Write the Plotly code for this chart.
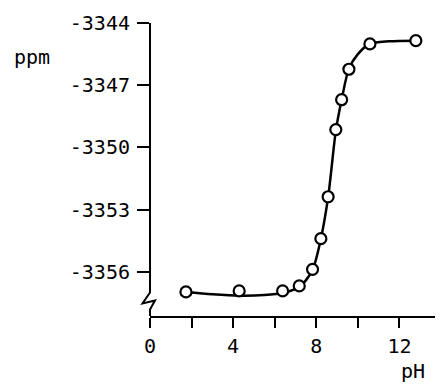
import plotly.graph_objects as go

# measured points
ph = [1.73, 4.29, 6.38, 7.18, 7.82, 8.22, 8.57, 8.94, 9.22, 9.57, 10.58, 12.79]
shift_ppm = [-3356.97, -3356.92, -3356.92, -3356.68, -3355.88, -3354.40,
             -3352.38, -3349.14, -3347.70, -3346.23, -3345.01, -3344.85]

# fitted curve
curve_ph = [1.73, 3.0, 4.3, 5.5, 6.4, 7.2, 7.8, 8.2, 8.57, 8.94, 9.22, 9.57, 10.0, 10.58, 11.5, 12.79]
curve_ppm = [-3356.97, -3357.08, -3357.15, -3357.12, -3357.02, -3356.72, -3355.95, -3354.5,
             -3352.4, -3349.2, -3347.7, -3346.2, -3345.5, -3345.0, -3344.88, -3344.85]

y_ticks = [-3344, -3347, -3350, -3353, -3356]
y_tick_labels = ["-3344", "-3347", "-3350", "-3353", "-3356"]
x_ticks = [0, 4, 8, 12]
x_tick_labels = ["0", "4", "8", "12"]

FONT = "DejaVu Sans Mono"

fig = go.Figure()
fig.add_trace(go.Scatter(x=curve_ph, y=curve_ppm, mode="lines",
                         line=dict(color="black", width=2.5, shape="spline", smoothing=0.8),
                         hoverinfo="skip", showlegend=False))
fig.add_trace(go.Scatter(x=ph, y=shift_ppm, mode="markers",
                         marker=dict(symbol="circle", size=11, color="white",
                                     line=dict(color="black", width=2.2)),
                         showlegend=False))

# page has an 8px body margin, so the figure is drawn 8px smaller and margins are reduced
fig.update_layout(
    width=435, height=376,
    margin=dict(l=142, r=2, t=15, b=67.5),
    paper_bgcolor="white", plot_bgcolor="white",
    font=dict(family=FONT, size=20, color="black"),
    xaxis=dict(range=[0, 14], showgrid=False, zeroline=False,
               showline=True, linecolor="black", linewidth=2,
               ticks="outside", ticklen=10, tickwidth=2, tickcolor="black",
               tickvals=x_ticks, ticktext=x_tick_labels,
               ticklabelstandoff=1,
               minor=dict(ticks="outside", ticklen=10, tickwidth=2, tickcolor="black",
                          tick0=0, dtick=2, showgrid=False)),
    yaxis=dict(range=[-3358.13, -3344], showgrid=False, zeroline=False,
               showline=False,
               ticks="outside", ticklen=12, tickwidth=2, tickcolor="black",
               tickvals=y_ticks, ticktext=y_tick_labels,
               ticklabelstandoff=3),
    shapes=[dict(type="path", xref="paper", yref="paper",
                 path="M 0 1 L 0 0.080 L -0.0258 0.0426 L 0.0172 0.0528 L 0 0.0221 L 0 0",
                 line=dict(color="black", width=2), layer="above")],
    annotations=[
        dict(text="ppm", xref="paper", yref="paper", x=-0.405, y=0.884,
             xanchor="center", yanchor="middle", showarrow=False,
             font=dict(family=FONT, size=20)),
        dict(text="pH", xref="paper", yref="paper", x=0.905, y=-0.187,
             xanchor="center", yanchor="middle", showarrow=False,
             font=dict(family=FONT, size=20)),
    ],
)

fig.write_html("out.html")
